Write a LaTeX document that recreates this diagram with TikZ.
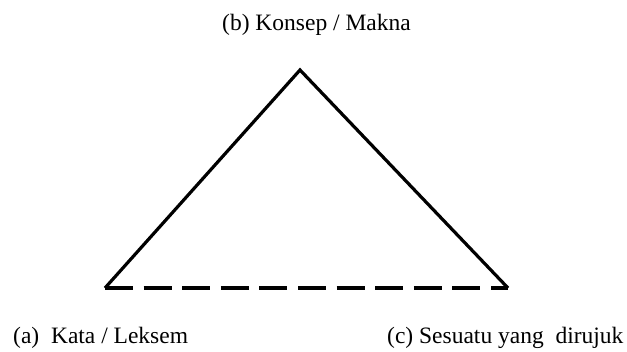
\documentclass[tikz,border=0pt]{standalone}
\usepackage{fontspec}
\setmainfont{Liberation Serif}
\begin{document}
\begin{tikzpicture}[x=1pt,y=-1pt,
  side/.style={line width=3.2pt,line cap=butt,line join=miter},
  base/.style={line width=3.2pt,dash pattern=on 28pt off 10.6pt},
  lbl/.style={font=\fontsize{23.5}{28}\selectfont,inner sep=0pt,anchor=base west}]
\useasboundingbox (0,0) rectangle (627,352);
\coordinate (top) at (300,70);
\coordinate (left) at (105,288);
\coordinate (right) at (508,288);
\draw[side] (left) -- (top) -- (right);
\draw[base] (left) -- (right);
\node[lbl] (b) at (222,31) {(b) Konsep / Makna};
\node[lbl] (a) at (13,344) {(a)\ \ Kata / Leksem};
\node[lbl] (c) at (387,344) {(c) Sesuatu yang\ \ dirujuk};
\end{tikzpicture}
\end{document}
